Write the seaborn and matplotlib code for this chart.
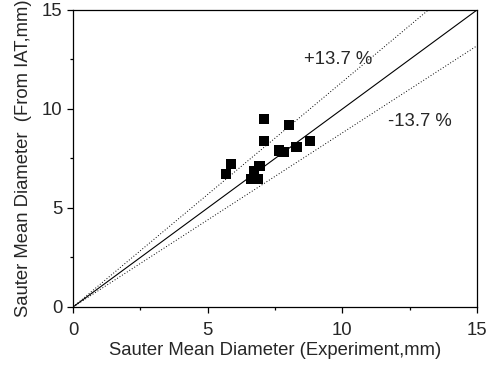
import matplotlib
matplotlib.use("Agg")
import matplotlib.pyplot as plt
import seaborn as sns
import numpy as np
import pandas as pd
from matplotlib.ticker import MultipleLocator

# Data
x_exp = [5.68, 5.87, 6.60, 6.72, 6.86, 6.92, 7.10, 7.10, 7.65, 7.81, 8.01, 8.30, 8.80]
y_iat = [6.71, 7.23, 6.47, 6.86, 6.47, 7.11, 9.50, 8.39, 7.90, 7.82, 9.18, 8.07, 8.39]
band = 1.137  # +/-13.7 %
line_x = [0, 15]
x_ticks = [0, 5, 10, 15]
y_ticks = [0, 5, 10, 15]

sns.set_style("ticks")
plt.rcParams['font.family'] = ['Liberation Sans', 'DejaVu Sans']

FS = 13.3

fig = plt.figure(figsize=(4.91, 3.67), dpi=100)
ax = fig.add_axes([0.1487, 0.1635, 0.9715 - 0.1487, 0.9728 - 0.1635])

df_pts = pd.DataFrame({"x": x_exp, "y": y_iat})
lines = pd.DataFrame({"x": line_x,
                      "y": [v for v in line_x],
                      "yu": [v * band for v in line_x],
                      "yl": [v / band for v in line_x]})

sns.lineplot(data=lines, x="x", y="y", ax=ax, color="black", lw=0.8)
sns.lineplot(data=lines, x="x", y="yu", ax=ax, color="black", lw=0.7, linestyle=(0, (1, 2)))
sns.lineplot(data=lines, x="x", y="yl", ax=ax, color="black", lw=0.7, linestyle=(0, (1, 2)))
sns.scatterplot(data=df_pts, x="x", y="y", ax=ax, marker="s", s=55, color="black",
                edgecolor="none", zorder=5)

ax.set_xlim(0, 15)
ax.set_ylim(0, 15)
ax.set_xticks(x_ticks)
ax.set_yticks(y_ticks)
ax.xaxis.set_minor_locator(MultipleLocator(2.5))
ax.yaxis.set_minor_locator(MultipleLocator(2.5))
ax.tick_params(which="major", direction="out", length=4, width=0.9, labelsize=FS, color="black")
ax.tick_params(which="minor", direction="out", length=2, width=0.9, color="black")
ax.tick_params(axis="x", which="major", pad=7)
ax.tick_params(axis="y", which="major", pad=3.5)
for s in ax.spines.values():
    s.set_visible(True)
    s.set_linewidth(0.9)
    s.set_color("black")

ax.set_xlabel("Sauter Mean Diameter (Experiment,mm)", fontsize=FS, labelpad=2)
ax.set_ylabel("Sauter Mean Diameter  (From IAT,mm)", fontsize=FS, labelpad=7)

ax.text(8.58, 12.48, "+13.7 %", fontsize=FS, ha="left", va="center")
ax.text(11.71, 9.37, "-13.7 %", fontsize=FS, ha="left", va="center")

fig.savefig("out.png", dpi=100)
